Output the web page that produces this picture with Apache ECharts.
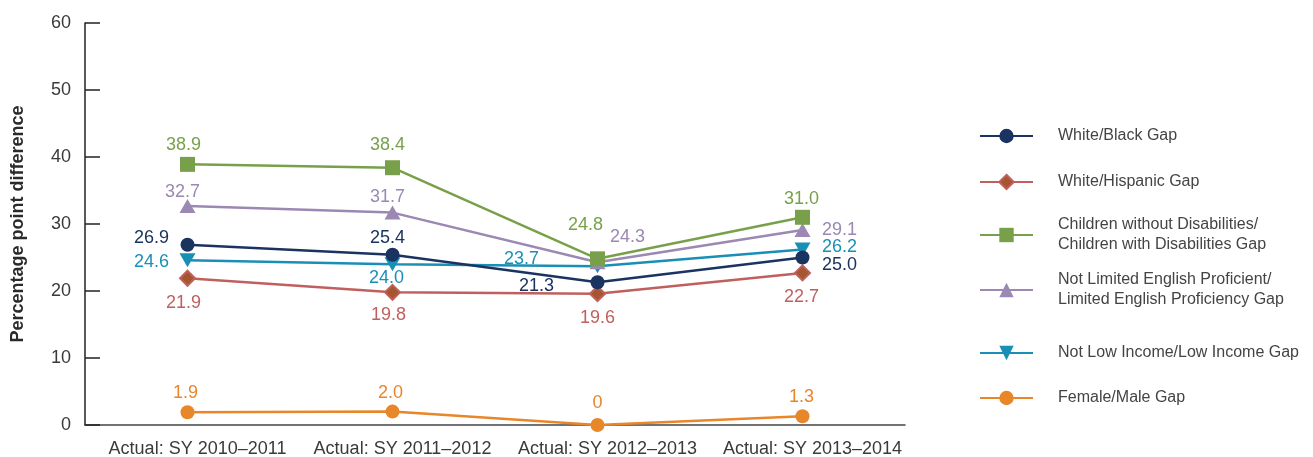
<!DOCTYPE html>
<html><head><meta charset="utf-8">
<script src="https://cdn.jsdelivr.net/npm/echarts@6/dist/echarts.min.js"></script>
<style>html,body{margin:0;padding:0;background:#fff}#c{width:1313px;height:457px}</style>
</head><body><div id="c"></div>
<script>
const categories = ['Actual: SY 2010\u20132011','Actual: SY 2011\u20132012','Actual: SY 2012\u20132013','Actual: SY 2013\u20132014'];
const whiteBlack = [26.9, 25.4, 21.3, 25.0];
const whiteHispanic = [21.9, 19.8, 19.6, 22.7];
const disabilities = [38.9, 38.4, 24.8, 31.0];
const lep = [32.7, 31.7, 24.3, 29.1];
const lowIncome = [24.6, 24.0, 23.7, 26.2];
const femaleMale = [1.9, 2.0, 0, 1.3];
const yTicks = [0, 10, 20, 30, 40, 50, 60];
const seriesNames = ['White/Black Gap','White/Hispanic Gap','Children without Disabilities/\nChildren with Disabilities Gap','Not Limited English Proficient/\nLimited English Proficiency Gap','Not Low Income/Low Income Gap','Female/Male Gap'];

const FONT = 'Liberation Sans';
const colors = ['#1b3360','#c0605e','#78a04a','#9b88b3','#1a8fb5','#e8862a'];
const labelColors = ['#1b3360','#c0605e','#78a04a','#9b88b3','#1a8fb5','#e8862a'];
const symbols = ['circle','diamond','rect','triangle','path://M0,0 L10,0 L5,8.66 Z','circle'];
const symSizes = [14,15,15,[16,14],[16,14],14];
// label offsets (label centre relative to point centre), per point
const labelOffsets = [
  [[-36,-7],[-5,-17],[-61,4],[37,8]],
  [[-4,25],[-4,23],[0,24],[-1,24]],
  [[-4,-19],[-5,-23],[-12,-34],[-1,-18]],
  [[-5,-14],[-5,-16],[30,-25],[37,0]],
  [[-36,2],[-6,14],[-76,-7],[37,-2]],
  [[-2,-19],[-2,-19],[0,-22],[-1,-19]]
];
const allData = [whiteBlack, whiteHispanic, disabilities, lep, lowIncome, femaleMale];

function fmt(v){ return v === 0 ? '0' : v.toFixed(1); }

const series = allData.map((arr, i) => ({
  name: seriesNames[i],
  type: 'line',
  symbol: symbols[i],
  symbolSize: symSizes[i],
  showAllSymbol: true,
  lineStyle: {width: 2.5, color: colors[i]},
  itemStyle: i === 1 ? {color: '#a5562e', borderColor: '#c0605e', borderWidth: 2} : {color: colors[i]},
  z: 10 - i,
  data: arr.map((v, j) => ({
    value: v,
    label: {show: true, position: 'inside', offset: labelOffsets[i][j], align: 'center', verticalAlign: 'middle',
      formatter: () => fmt(v), color: labelColors[i], fontSize: 18, fontFamily: FONT}
  }))
}));

const legendTops = [121, 167, 210, 265, 338, 383];
const legends = seriesNames.map((n, i) => ({
  data: [n], left: 974, top: legendTops[i], orient: 'vertical',
  itemWidth: 53, itemHeight: 18, itemGap: 0, selectedMode: false,
  textStyle: {fontSize: 16, fontFamily: FONT, color: '#444', lineHeight: 20, padding: [0,0,0,20]}
}));

const chart = echarts.init(document.getElementById('c'));
chart.setOption({
  animation: false,
  backgroundColor: '#fff',
  color: colors,
  legend: legends,
  grid: {left: 85, right: 408, top: 23, bottom: 32, containLabel: false, outerBoundsMode: 'none'},
  xAxis: {
    type: 'category', data: categories, boundaryGap: true,
    axisLine: {lineStyle: {color: '#444', width: 1.5}},
    axisTick: {show: false},
    axisLabel: {interval: 0, fontSize: 18, fontFamily: FONT, color: '#3a3a3a', margin: 15, padding: [0,0,0,20]}
  },
  yAxis: {
    type: 'value', min: yTicks[0], max: yTicks[yTicks.length-1], interval: 10,
    name: 'Percentage point difference', nameLocation: 'middle', nameGap: 58,
    nameTextStyle: {fontSize: 18, fontWeight: 'bold', fontFamily: FONT, color: '#2a2a2a'},
    axisLine: {show: true, lineStyle: {color: '#222', width: 1.5}},
    axisTick: {show: true, inside: true, length: 15, lineStyle: {color: '#222', width: 1.5}},
    splitLine: {show: false},
    axisLabel: {fontSize: 18, fontFamily: FONT, color: '#3a3a3a', margin: 14}
  },
  series: series
});
</script></body></html>
